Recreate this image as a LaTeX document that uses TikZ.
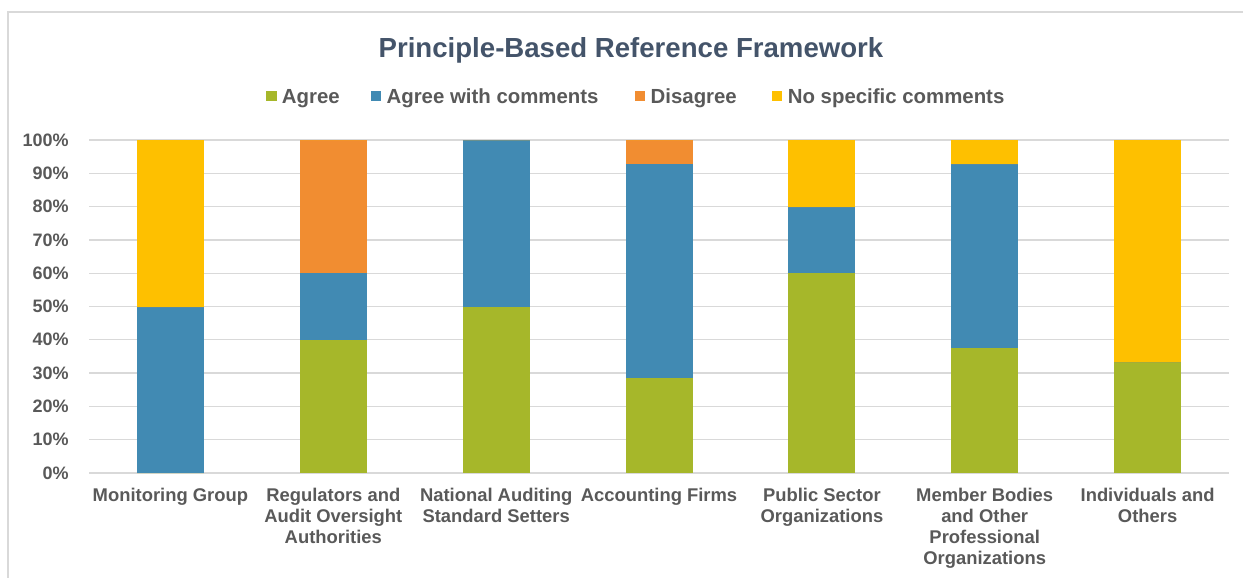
\documentclass[tikz,border=0pt]{standalone}
\usepackage{fontspec}
\setmainfont{Liberation Sans}
\usetikzlibrary{positioning}

\definecolor{agreeGreen}{HTML}{A6B72A}
\definecolor{commentBlue}{HTML}{418AB3}
\definecolor{disagreeOrange}{HTML}{F18D31}
\definecolor{nocommentYellow}{HTML}{FEC000}
\definecolor{titleSlate}{HTML}{44546A}
\definecolor{textGray}{HTML}{595959}
\definecolor{gridGray}{HTML}{D9D9D9}

\begin{document}
\begin{tikzpicture}[
        x=0.75pt, y=-0.75pt,
        gridline/.style={draw=gridGray, line width=1pt},
        ticklabel/.style={anchor=east, inner sep=0pt, text=textGray, font=\fontsize{13.5}{16}\selectfont\bfseries},
        catlabel/.style={anchor=north, align=center, inner sep=0pt, text=textGray, font=\fontsize{13.8}{15.75}\selectfont\bfseries},
        legendbox/.style={fill=#1, minimum size=7.9pt, inner sep=0pt},
        legendtext/.style={anchor=base west, inner sep=0pt, text=textGray, font=\fontsize{15.3}{18}\selectfont\bfseries}
    ]
    \useasboundingbox (0,0) rectangle (1243,578);

    % Chart frame
    \draw[gridGray, line width=1.5pt] (8,578) -- (8,11.5) -- (1243,11.5);

    % Title
    \node[anchor=base, inner sep=0pt, text=titleSlate, font=\fontsize{20.7}{24}\selectfont\bfseries]
        (title) at (631,57) {Principle-Based Reference Framework};

    % Legend
    \foreach \name/\col/\xs/\txt in {lgAgree/agreeGreen/265.7/Agree,
                                   lgComments/commentBlue/370.3/Agree with comments,
                                   lgDisagree/disagreeOrange/634.4/Disagree,
                                   lgNone/nocommentYellow/771.6/No specific comments} {
        \node[legendbox=\col, anchor=west] (\name-box) at (\xs,96) {};
        \node[legendtext] (\name) at (\xs+16,103) {\txt};
    }

    % Gridlines and percentage ticks
    \foreach \k in {0,...,10} {
        \draw[gridline] (89,{473-33.3*\k}) -- (1229,{473-33.3*\k});
        \node[ticklabel] (tick\k) at (69,{473-33.3*\k}) {\the\numexpr\k*10\relax\%};
    }

    % Stacked bars (cumulative tops: agree / with comments / disagree, rest is no comments)
    \foreach \i/\ga/\gb/\go in {1/0/50/50, 2/40/60/100, 3/50/100/100, 4/28.57/92.86/100,
                                 5/60/80/80, 6/37.5/92.86/92.86, 7/33.33/33.33/33.33} {
        \pgfmathsetmacro{\cx}{89+162.86*(\i-0.5)}
        \fill[agreeGreen] (\cx-33.5,473) rectangle (\cx+33.5,{473-3.33*\ga});
        \fill[commentBlue] (\cx-33.5,{473-3.33*\ga}) rectangle (\cx+33.5,{473-3.33*\gb});
        \fill[disagreeOrange] (\cx-33.5,{473-3.33*\gb}) rectangle (\cx+33.5,{473-3.33*\go});
        \fill[nocommentYellow] (\cx-33.5,{473-3.33*\go}) rectangle (\cx+33.5,140);
    }

    % Category labels
    \node[catlabel] (cat1) at (170.4,488) {Monitoring Group};
    \node[catlabel] (cat2) at (333.3,488) {Regulators and\\Audit Oversight\\Authorities};
    \node[catlabel] (cat3) at (496.2,488) {National Auditing\\Standard Setters};
    \node[catlabel] (cat4) at (659.0,488) {Accounting Firms};
    \node[catlabel] (cat5) at (821.9,488) {Public Sector\\Organizations};
    \node[catlabel] (cat6) at (984.7,488) {Member Bodies\\and Other\\Professional\\Organizations};
    \node[catlabel] (cat7) at (1147.6,488) {Individuals and\\Others};

\end{tikzpicture}
\end{document}
